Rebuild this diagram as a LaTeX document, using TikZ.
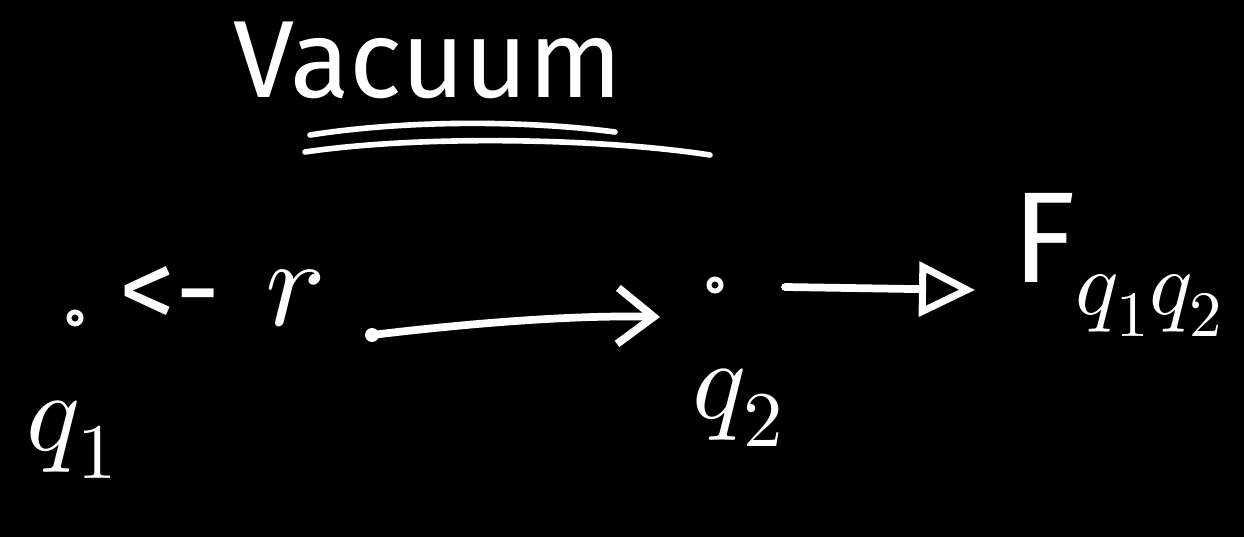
\documentclass[tikz,border=0pt]{standalone}
\usepackage{fontspec}
\usepackage{unicode-math}
\setmathfont{Latin Modern Math}
\setsansfont{Fira Sans}
\usetikzlibrary{arrows.meta}
\begin{document}
\begin{tikzpicture}[x=0.025cm,y=-0.025cm,
  ink/.style={draw=white,line width=5.5pt,line cap=round,line join=round},
  lbl/.style={text=white,inner sep=0pt},
  dotq/.style={circle,draw=white,line width=3.5pt,minimum size=0.3cm,inner sep=0pt}]
\fill[black] (0,0) rectangle (1244,537);
\useasboundingbox (0,0) rectangle (1244,537);
% title
\node[lbl,font=\sffamily\fontsize{78}{78}\selectfont] (title) at (428,60) {Vacuum};
\draw[ink,line width=4pt] (310,135) .. controls (420,118) and (540,122) .. (615,132);
\draw[ink,line width=4pt] (305,152) .. controls (420,135) and (600,138) .. (710,155);
% charges
\node[dotq] (q1) at (75,318) {};
\node[dotq] (q2) at (715,285) {};
\node[lbl,font=\fontsize{80}{80}\selectfont] (q1l) at (72,440) {$q_1$};
\node[lbl,font=\fontsize{80}{80}\selectfont] (q2l) at (738,408) {$q_2$};
\node[lbl,font=\sffamily\fontsize{80}{80}\selectfont] (lt) at (170,298) {<-};
\node[lbl,font=\fontsize{90}{90}\selectfont] (r) at (295,298) {$r$};
% arrow r -> q2
\coordinate (rs) at (372,335);
\coordinate (re) at (660,317);
\fill[white] (rs) circle (7);
\draw[ink,-{Straight Barb[length=0.9cm,width=1.4cm,line width=5.5pt]}] (rs) .. controls (480,322) and (580,315) .. (re);
% force arrow
\node[lbl,anchor=west,font=\sffamily\fontsize{92}{92}\selectfont] (F) at (1012,265) {F$_{q_1q_2}$};
\coordinate (fs) at (785,287);
\coordinate (fe) at (975,290);
\draw[ink,-{Triangle[open,length=1.4cm,width=1.35cm,line width=5pt]}] (fs) -- (fe);
\end{tikzpicture}
\end{document}
